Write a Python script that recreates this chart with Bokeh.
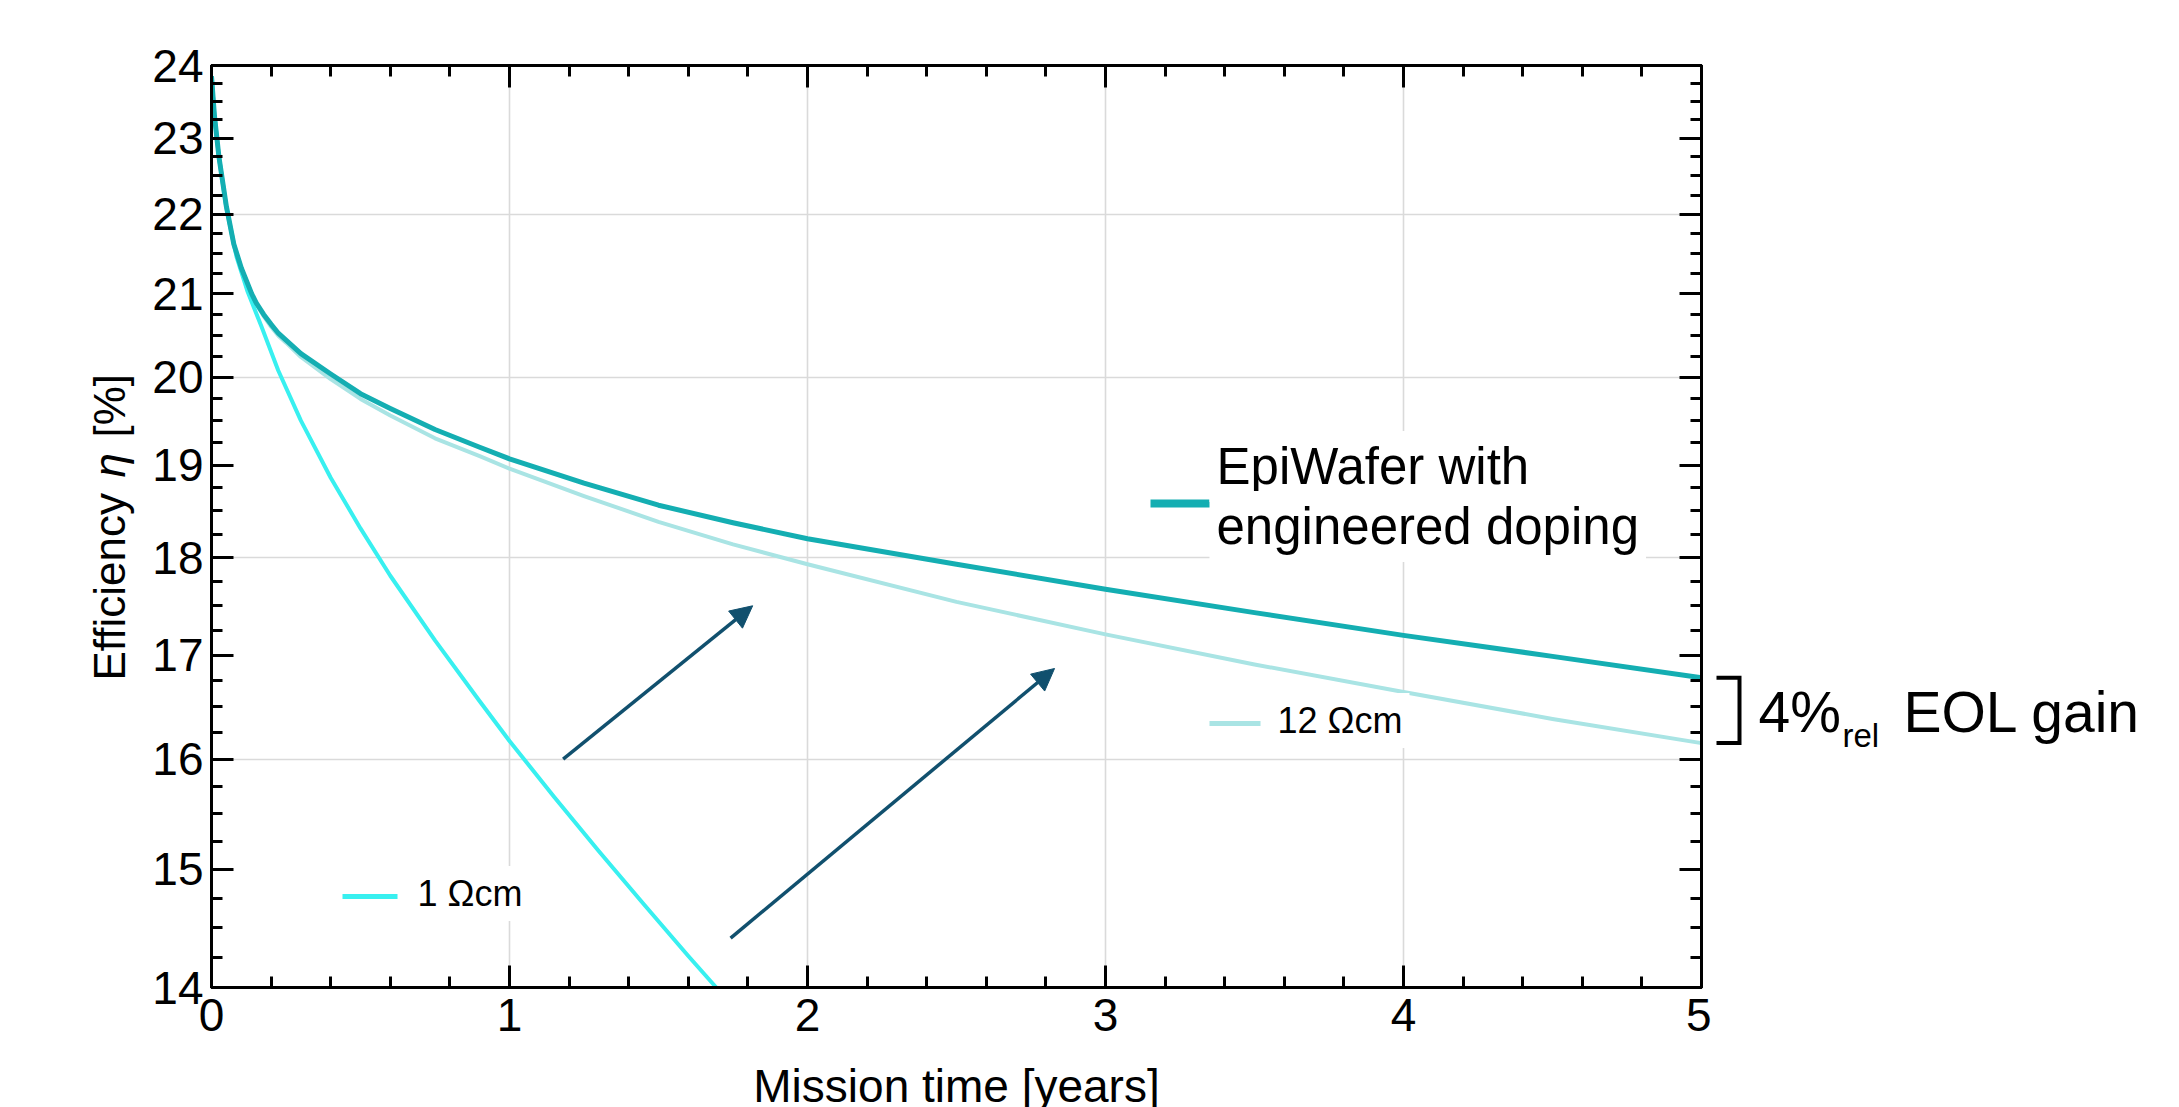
import math
from bokeh.plotting import figure
from bokeh.layouts import row, column
from bokeh.core.properties import value
from bokeh.models import (Range1d, FixedTicker, LinearAxis, LogAxis, Label, Arrow,
                          NormalHead, BasicTickFormatter)
from bokeh.embed import file_html
from bokeh.resources import INLINE

# ---------------- data ----------------
t_years = [0, 0.01, 0.025, 0.05, 0.075, 0.1, 0.135, 0.15, 0.175, 0.2, 0.225, 0.25,
           0.3, 0.4, 0.5, 0.6, 0.75, 0.9, 1.0, 1.25, 1.5, 1.75, 2.0, 2.5, 3.0, 3.5,
           4.0, 4.5, 5.0]
eta_epi = [23.85, 23.3, 22.75, 22.1, 21.62, 21.32, 21.0, 20.89, 20.75, 20.63, 20.52,
           20.44, 20.28, 20.04, 19.81, 19.64, 19.4, 19.2, 19.07, 18.8, 18.56, 18.37,
           18.2, 17.93, 17.67, 17.43, 17.2, 16.99, 16.78]
eta_12ohm = [23.85, 23.3, 22.75, 22.1, 21.62, 21.31, 20.99, 20.88, 20.73, 20.6, 20.49,
             20.41, 20.24, 19.98, 19.75, 19.56, 19.3, 19.1, 18.96, 18.66, 18.38, 18.14,
             17.93, 17.54, 17.21, 16.91, 16.64, 16.38, 16.15]
t_1ohm = [0, 0.01, 0.025, 0.05, 0.084, 0.12, 0.168, 0.224, 0.3, 0.4, 0.5, 0.6, 0.75,
          0.9, 1.0, 1.15, 1.3, 1.45, 1.6, 1.69, 1.75]
eta_1ohm = [23.85, 23.3, 22.75, 22.08, 21.46, 21.04, 20.6, 20.08, 19.5, 18.86, 18.31,
            17.81, 17.15, 16.55, 16.17, 15.65, 15.16, 14.7, 14.26, 14.01, 13.85]

series_names = ["1 Ωcm", "12 Ωcm", "EpiWafer with", "engineered doping"]
series_colors = ["#38F0F0", "#A9E4E4", "#14AEB2"]

# arrows: (t_start, eta_start, t_end, eta_end)
arrow_1 = [1.18, 16.0, 1.816, 17.5]
arrow_2 = [1.742, 14.41, 2.829, 16.87]
arrow_color = "#11506E"

x_ticks = [0, 1, 2, 3, 4, 5]
x_tick_labels = ["0", "1", "2", "3", "4", "5"]
x_minor = [i / 5 for i in range(0, 26)]
y_ticks = [14, 15, 16, 17, 18, 19, 20, 21, 22, 23, 24]
y_tick_labels = ["14", "15", "16", "17", "18", "19", "20", "21", "22", "23", "24"]
y_minor = [14 + i / 4 for i in range(0, 41)]
x_grid = [1, 2, 3, 4]
y_grid = [16, 18, 20, 22]

x_title = "Mission time [years]"
y_title_parts = ["Efficiency", "η", "[%]"]
eol_parts = ["4%", "rel", "EOL gain"]

FONT = "Liberation Sans"

# ---------------- geometry (page pixels) ----------------
W, H = 2179, 1107
LEFT_W = 148                    # left strip holding the y title
FRAME_L, FRAME_R = 211, 1701    # plot frame in page pixels
BT, FRAME_B = 65, 987
MAIN_RB = 10
MAIN_W = FRAME_R + MAIN_RB - LEFT_W
RIGHT_X0 = LEFT_W + MAIN_W
RIGHT_W = W - RIGHT_X0
MAIN_H = 1060                   # main figure height; strip below holds x title
STRIP_H = H - MAIN_H
FW, FH = FRAME_R - FRAME_L, FRAME_B - BT
X0, X1 = 0.0, 5.0
Y0, Y1 = 14.0, 24.0


def px2x(px):
    return X0 + (px - FRAME_L) / FW * (X1 - X0)


def px2y(py):
    return math.exp(math.log(Y1) - (py - BT) / FH * (math.log(Y1) - math.log(Y0)))


yr = Range1d(Y0, Y1)

p = figure(width=MAIN_W, height=MAIN_H, x_range=Range1d(X0, X1), y_range=yr,
           y_axis_type="log", output_backend="svg", toolbar_location=None,
           min_border_left=FRAME_L - LEFT_W, min_border_right=MAIN_RB,
           min_border_top=BT, min_border_bottom=MAIN_H - FRAME_B)
p.frame_align = False
p.background_fill_color = "white"
p.border_fill_color = "white"
p.outline_line_color = "black"
p.outline_line_width = 3


def style_axis(ax, ticks, minor, labels, standoff=8):
    ax.ticker = FixedTicker(ticks=ticks, minor_ticks=minor)
    ax.axis_line_color = "black"
    ax.axis_line_width = 3
    ax.major_tick_in = 22
    ax.major_tick_out = 0
    ax.minor_tick_in = 11
    ax.minor_tick_out = 0
    ax.major_tick_line_width = 3
    ax.minor_tick_line_width = 3
    ax.major_tick_line_color = "black"
    ax.minor_tick_line_color = "black"
    if labels is None:
        ax.major_label_text_font_size = "0px"
        ax.major_label_standoff = 0
    else:
        ax.formatter = BasicTickFormatter()
        ax.major_label_overrides = {t: l for t, l in zip(ticks, labels)}
        ax.major_label_text_font = FONT
        ax.major_label_text_font_size = "46px"
        ax.major_label_text_color = "black"
        ax.major_label_standoff = standoff


style_axis(p.xaxis[0], x_ticks, x_minor, x_tick_labels, standoff=11)
style_axis(p.yaxis[0], y_ticks, y_minor, y_tick_labels, standoff=8)

top_ax = LinearAxis()
style_axis(top_ax, x_ticks, x_minor, None)
p.add_layout(top_ax, "above")
right_ax = LogAxis()
style_axis(right_ax, y_ticks, y_minor, None)
p.add_layout(right_ax, "right")

p.xgrid.ticker = FixedTicker(ticks=x_grid)
p.ygrid.ticker = FixedTicker(ticks=y_grid)
p.xgrid.grid_line_color = "#DADADA"
p.ygrid.grid_line_color = "#DADADA"
p.xgrid.grid_line_width = 1.6
p.ygrid.grid_line_width = 1.6

# ---------------- curves ----------------
p.line(t_years, eta_12ohm, line_color=series_colors[1], line_width=4, line_join="round")
p.line(t_1ohm, eta_1ohm, line_color=series_colors[0], line_width=4, line_join="round")
p.line(t_years, eta_epi, line_color=series_colors[2], line_width=5, line_join="round")

# ---------------- legend samples ----------------
p.segment(x0=[px2x(342)], y0=[px2y(896)], x1=[px2x(397)], y1=[px2y(896)],
          line_color=series_colors[0], line_width=5)
p.segment(x0=[px2x(1209)], y0=[px2y(723)], x1=[px2x(1260)], y1=[px2y(723)],
          line_color=series_colors[1], line_width=5)
p.segment(x0=[px2x(1150)], y0=[px2y(503)], x1=[px2x(1220)], y1=[px2y(503)],
          line_color=series_colors[2], line_width=8)


def lab(text, px, py, size):
    # padding / baseline shift corrected empirically
    return Label(x=px2x(px - 11), y=px2y(py - 16), text=text, text_font=FONT,
                 text_font_size=f"{size}px", text_color="black",
                 text_baseline="alphabetic", text_align="left",
                 background_fill_color="white", background_fill_alpha=1.0, padding=7)


p.add_layout(lab(series_names[0], 421, 909, 36))
p.add_layout(lab(series_names[1], 1281, 736, 36))
p.add_layout(lab(series_names[2], 1220, 482, 51))
p.add_layout(lab(series_names[3], 1220, 542, 51))

# ---------------- arrows ----------------
for a in (arrow_1, arrow_2):
    p.add_layout(Arrow(x_start=a[0], y_start=a[1], x_end=a[2], y_end=a[3],
                       line_color=arrow_color, line_width=3.5,
                       end=NormalHead(size=22, fill_color=arrow_color,
                                      line_color=arrow_color, line_width=1)))


def strip(width, height, xr, yrange, **kw):
    f = figure(width=width, height=height, x_range=xr, y_range=yrange,
               output_backend="svg", toolbar_location=None,
               x_axis_location=None, y_axis_location=None, **kw)
    f.frame_align = False
    f.outline_line_color = None
    f.grid.visible = False
    f.background_fill_color = "white"
    f.border_fill_color = "white"
    return f


# ---------------- bottom strip: x title ----------------
pb = strip(MAIN_W, STRIP_H, Range1d(0, MAIN_W), Range1d(0, STRIP_H),
           min_border_left=0, min_border_right=0, min_border_top=0,
           min_border_bottom=0)
pb.text(x=[(FRAME_L + FRAME_R) / 2 - LEFT_W], y=[H - 1085], text=[x_title],
        text_font=value(FONT), text_font_size="46px", text_color="black",
        text_align="center", text_baseline="alphabetic")

# ---------------- left strip: y title ----------------
pl = strip(LEFT_W, H, Range1d(0, LEFT_W), yr, y_axis_type="log",
           min_border_left=0, min_border_right=0, min_border_top=BT,
           min_border_bottom=H - FRAME_B)
for txt, py, style in ((y_title_parts[0], 680, "normal"),
                       (y_title_parts[1], 477, "italic"),
                       (y_title_parts[2], 437, "normal")):
    pl.text(x=[109], y=[px2y(py)], text=[txt], angle=math.pi / 2,
            text_font=value(FONT), text_font_size="44px", text_color="black",
            text_font_style=style, text_align="left", text_baseline="alphabetic")

# ---------------- right strip: EOL gain bracket ----------------
pr = strip(RIGHT_W, H, Range1d(0, RIGHT_W), yr, y_axis_type="log",
           min_border_left=0, min_border_right=0, min_border_top=BT,
           min_border_bottom=H - FRAME_B)
bx0, bx1 = 1716 - RIGHT_X0, 1739 - RIGHT_X0
pr.line(x=[bx0, bx1, bx1, bx0],
        y=[eta_epi[-1], eta_epi[-1], eta_12ohm[-1], eta_12ohm[-1]],
        line_color="black", line_width=4, line_join="miter")
for txt, px, py, size in ((eol_parts[0], 1758, 711, 57),
                          (eol_parts[1], 1842, 735, 33),
                          (eol_parts[2], 1903, 711, 57)):
    pr.text(x=[px - RIGHT_X0], y=[px2y(py)], text=[txt], text_font=value(FONT),
            text_font_size=f"{size}px", text_color="black",
            text_align="left", text_baseline="alphabetic")

layout = row(pl, column(p, pb), pr)
open("out.html", "w").write(file_html(layout, INLINE))
